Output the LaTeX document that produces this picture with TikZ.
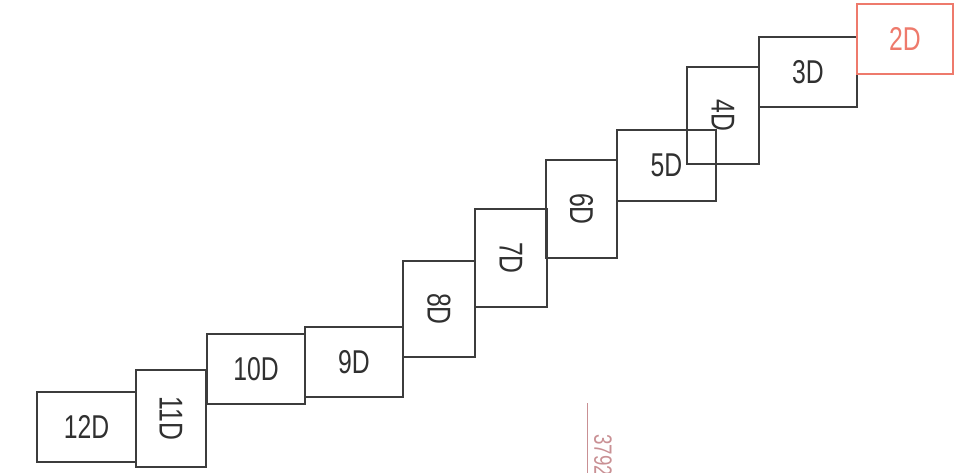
\documentclass[tikz,border=0pt]{standalone}
\usepackage{fontspec}
\usepackage{graphicx}
\newfontfamily\boxfont{Liberation Sans}[FakeStretch=0.75]
\definecolor{linegray}{HTML}{3C3C3C}
\definecolor{textgray}{HTML}{303030}
\definecolor{salmon}{HTML}{EE7A6C}
\definecolor{dimpink}{HTML}{C99094}
\tikzset{
  box/.style={draw=linegray, line width=1.9pt, inner sep=0pt, text=textgray,
    font=\boxfont\fontsize{33}{33}\selectfont},
  hotbox/.style={box, draw=salmon, text=salmon},
  wide/.style={minimum width=98pt, minimum height=70pt},
  tall/.style={minimum width=71pt, minimum height=97pt}
}
\newcommand{\vlabel}[1]{\rotatebox{-90}{#1}}
\begin{document}
\begin{tikzpicture}[x=1pt,y=-1pt]
  \useasboundingbox (0,0) rectangle (955,473);
  \clip (0,0) rectangle (955,473);
  % stair of drawing sheets, bottom-left to top-right
  \node[box, wide, minimum width=99pt] (d12) at (86.5,427) {12D};
  \node[box, tall, minimum width=70pt] (d11) at (171,418.5) {\vlabel{11D}};
  \node[box, wide] (d10) at (256,369) {10D};
  \node[box, wide] (d9)  at (354,362) {9D};
  \node[box, tall, minimum width=72pt, minimum height=96pt] (d8) at (439,309) {\vlabel{8D}};
  \node[box, tall, minimum width=72pt, minimum height=98pt] (d7) at (511,258) {\vlabel{7D}};
  \node[box, tall, minimum height=98pt] (d6) at (581.5,209) {\vlabel{6D}};
  \node[box, wide, minimum width=99pt, minimum height=71pt] (d5) at (666.5,165.5) {5D};
  \node[box, tall, minimum width=72pt] (d4) at (723,115.5) {\vlabel{4D}};
  \node[box, wide] (d3) at (808,72) {3D};
  \node[hotbox, wide, minimum width=96pt] (d2) at (905,39) {2D};
  % faint dimension mark at the bottom edge
  \coordinate (dimtop) at (587,403);
  \coordinate (dimbot) at (587,473);
  \draw[dimpink, line width=0.8pt] (dimtop) -- (dimbot);
  \node[rotate=-90, anchor=west, inner sep=0pt, text=dimpink,
    font=\boxfont\fontsize{25}{25}\selectfont] (dimtext) at (603,434) {3792};
\end{tikzpicture}
\end{document}
